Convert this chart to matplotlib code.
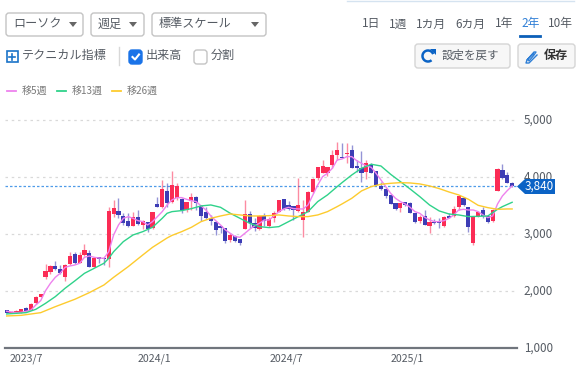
## Recreates the weekly candlestick chart with its toolbar.

import matplotlib
matplotlib.use("Agg")
import matplotlib.pyplot as plt
from matplotlib.patches import Arc, FancyBboxPatch, Polygon, Rectangle

plt.rcParams['font.family'] = ['Noto Sans CJK JP', 'DejaVu Sans']

opens = [1667, 1620, 1625, 1626, 1708, 1667, 1784, 1895, 2252, 2334, 2439, 2386, 2252, 2468, 2649, 2497, 2626, 2673, 2421, 2591, 2579,
         2556, 3357, 3410, 3316, 3234, 3141, 3304, 3164, 3211, 3100, 3532, 3468, 3760, 3568, 3626, 3614, 3421, 3573, 3655, 3492, 3381,
         3287, 3217, 3147, 3100, 2895, 2965, 2907, 3082, 3345, 3199, 3082, 3322, 3141, 3275, 3392, 3609, 3503, 3486, 3404, 3246, 3392,
         3743, 3977, 4076, 4065, 4205, 4386, 4357, 4398, 4474, 4193, 4152, 4094, 4211, 4112, 3843, 3784, 3690, 3538, 3451, 3562, 3550,
         3375, 3234, 3316, 3147, 3217, 3217, 3141, 3316, 3316, 3468, 3638, 3468, 2837, 3305, 3421, 3316, 3223, 3761, 4123, 4035, 3901]
highs = [1670, 1645, 1660, 1690, 1715, 1785, 1905, 1955, 2468, 2456, 2526, 2456, 2468, 2679, 2690, 2690, 2825, 2720, 2591, 2591, 2591,
         3480, 3597, 3632, 3374, 3363, 3392, 3421, 3246, 3217, 3392, 3643, 3948, 3889, 4112, 3890, 3626, 3568, 3726, 3667, 3509, 3480,
         3334, 3234, 3147, 3112, 3024, 2977, 2919, 3597, 3410, 3275, 3334, 3375, 3305, 3404, 3597, 3609, 3585, 3492, 3977, 3597, 3755,
         3977, 4182, 4299, 4182, 4474, 4614, 4591, 4603, 4562, 4299, 4462, 4299, 4240, 4112, 3919, 3802, 3702, 3538, 3538, 3568, 3568,
         3375, 3334, 3421, 3293, 3258, 3275, 3316, 3375, 3492, 3667, 3655, 3480, 3305, 3404, 3480, 3334, 3433, 4152, 4229, 4094, 3919]
lows = [1610, 1615, 1620, 1620, 1645, 1660, 1780, 1890, 2205, 2298, 2369, 2298, 2176, 2456, 2468, 2486, 2614, 2415, 2415, 2486, 2456,
        2415, 3304, 3275, 3158, 3117, 3141, 3158, 3082, 3029, 3082, 3468, 3450, 3480, 3550, 3597, 3363, 3392, 3421, 3421, 3234, 3258,
        3158, 2983, 3012, 2837, 2866, 2866, 2807, 3082, 3100, 3059, 3071, 3141, 3117, 3217, 3392, 3421, 3421, 3246, 3392, 2942, 3392,
        3726, 3948, 4065, 4024, 4152, 4299, 4328, 4240, 4152, 4094, 3919, 3960, 4065, 3860, 3772, 3626, 3527, 3421, 3392, 3492, 3375,
        3188, 3199, 3153, 3012, 3170, 3100, 3129, 3275, 3305, 3421, 3492, 3041, 2802, 3293, 3275, 3199, 3217, 3749, 3965, 3889, 3831]
closes = [1620, 1640, 1650, 1685, 1650, 1778, 1901, 1948, 2351, 2433, 2386, 2322, 2456, 2620, 2497, 2626, 2714, 2421, 2573, 2556, 2556,
          3410, 3450, 3328, 3199, 3141, 3304, 3176, 3234, 3088, 3392, 3480, 3784, 3550, 3860, 3843, 3421, 3562, 3650, 3550, 3322, 3287,
          3234, 3071, 3112, 2884, 2977, 2884, 2837, 3345, 3188, 3100, 3316, 3229, 3264, 3375, 3597, 3439, 3445, 3421, 3515, 3392, 3743,
          3960, 4182, 4193, 4170, 4381, 4474, 4334, 4427, 4152, 4158, 4065, 4240, 4065, 3860, 3784, 3667, 3527, 3439, 3538, 3509, 3375,
          3205, 3305, 3164, 3205, 3193, 3193, 3293, 3287, 3439, 3667, 3515, 3118, 3293, 3392, 3322, 3217, 3421, 4135, 3977, 3889, 3840]

ma5 = [1644, 1632, 1620, 1626, 1644, 1667, 1755, 1831, 2006, 2135, 2240, 2310, 2415, 2439, 2456, 2486, 2591, 2614, 2591, 2579, 2573,
       2690, 2983, 3158, 3275, 3304, 3275, 3234, 3217, 3158, 3217, 3304, 3392, 3509, 3597, 3638, 3638, 3609, 3585, 3568, 3492, 3421,
       3316, 3234, 3158, 3071, 3012, 2954, 2942, 3012, 3082, 3141, 3188, 3246, 3246, 3316, 3392, 3439, 3468, 3445, 3439, 3439, 3509,
       3685, 3860, 4006, 4065, 4152, 4299, 4316, 4357, 4357, 4287, 4240, 4193, 4170, 4065, 3948, 3831, 3714, 3626, 3568, 3527, 3468,
       3392, 3363, 3293, 3246, 3217, 3217, 3234, 3275, 3334, 3421, 3433, 3421, 3421, 3392, 3334, 3287, 3316, 3527, 3667, 3761, 3843]
ma13_idx = [0, 4, 6, 8, 10, 12, 14, 16, 18, 20, 21, 22, 24, 26, 28, 30, 32, 33, 34, 36, 38, 40, 42, 44, 46, 48, 50, 52, 54, 56, 58, 60,
            62, 64, 66, 68, 69, 71, 73, 75, 77, 79, 81, 83, 85, 87, 89, 91, 93, 95, 97, 99, 100, 101, 102, 104]
ma13 = [1597, 1620, 1679, 1784, 1901, 2047, 2176, 2310, 2398, 2486, 2573, 2690, 2866, 2983, 3041, 3117, 3275, 3363, 3392, 3410, 3445,
        3492, 3509, 3468, 3363, 3275, 3188, 3129, 3112, 3129, 3217, 3305, 3392, 3568, 3685, 3831, 3901, 4035, 4152, 4223, 4193, 4047,
        3919, 3790, 3655, 3509, 3404, 3351, 3334, 3305, 3310, 3316, 3375, 3433, 3480, 3556]
ma26_idx = [0, 3, 7, 10, 14, 17, 20, 22, 25, 28, 30, 33, 34, 36, 38, 40, 42, 44, 46, 48, 50, 52, 54, 56, 58, 60, 62, 64, 66, 68, 69, 71,
            73, 75, 77, 79, 81, 83, 85, 87, 89, 91, 93, 95, 97, 99, 101, 103, 104]
ma26 = [1562, 1573, 1620, 1725, 1854, 1971, 2105, 2240, 2427, 2632, 2766, 2930, 2975, 3041, 3117, 3217, 3275, 3316, 3351, 3334, 3316,
        3316, 3322, 3334, 3316, 3305, 3305, 3334, 3392, 3480, 3527, 3626, 3755, 3831, 3872, 3889, 3901, 3895, 3878, 3843, 3796, 3737,
        3685, 3609, 3503, 3462, 3433, 3439, 3439]

y_ticks = [1000, 2000, 3000, 4000, 5000]
date_idx = [0.5, 27, 54, 79]
date_labels = ["2023/7", "2024/1", "2024/7", "2025/1"]
last_price = 3840

UP = "#fb2c55"
DOWN = "#3d3db5"
PINK = "#ee82ee"
GREEN = "#2fd28a"
YELLOW = "#fdcb2e"
GRAY = "#6b7280"
TEXT = "#555b63"

W, H = 584, 378
fig = plt.figure(figsize=(W / 100, H / 100), dpi=100)

# chart area, x is the week index
ax = fig.add_axes([5 / W, 1 - 348 / H, 512 / W, 240 / H])
ax.set_xlim(-0.35, 105)
ax.set_ylim(1000, 5210)
ax.axis("off")

for v in y_ticks[1:]:
    ax.axhline(v, color="#d9d9d9", lw=0.9, ls=(0, (2, 3)), zorder=1)
ax.axhline(1000, color="#70757d", lw=1.6, clip_on=False, zorder=1)
ax.axhline(last_price, color="#4f9be8", lw=0.9, ls=(0, (2, 1.6)), zorder=2)

for i in range(len(opens)):
    c = UP if closes[i] >= opens[i] else DOWN
    ax.vlines(i, lows[i], highs[i], color=c, lw=1.0, alpha=0.55, zorder=3)
    ax.bar(i, abs(closes[i] - opens[i]), bottom=min(opens[i], closes[i]), width=0.86, color=c, lw=0, zorder=4)

ax.plot(range(len(ma5)), ma5, color=PINK, lw=1.0, zorder=5)
ax.plot(ma13_idx, ma13, color=GREEN, lw=1.0, zorder=5)
ax.plot(ma26_idx, ma26, color=YELLOW, lw=1.0, zorder=5)

# price labels on the right, dates underneath
trans = ax.get_yaxis_transform()
for v in y_ticks:
    ax.text(1.0135, v, "{:,}".format(v), transform=trans, color=TEXT, fontsize=8.4, va="center", ha="left")
for i, lab in zip(date_idx, date_labels):
    ax.annotate(lab, (i, 1000), xytext=(0, -7.5), textcoords="offset points", color=TEXT, fontsize=7.6, ha="left", va="center")

# toolbar and everything else around the chart, in pixels
ui = fig.add_axes([0, 0, 1, 1], zorder=10)
ui.set_xlim(0, W)
ui.set_ylim(H, 0)
ui.axis("off")
ui.patch.set_alpha(0)

def box(x0, y0, x1, y1, edge="#c4c4c4", face="white", r=3, lw=1.0):
    ui.add_patch(FancyBboxPatch((x0 + r, y0 + r), x1 - x0 - 2 * r, y1 - y0 - 2 * r, boxstyle="round,pad={},rounding_size={}".format(r, r),
                                ec=edge, fc=face, lw=lw))

def label(x, y, s, color=TEXT, size=8.7, **kw):
    ui.text(x, y, s, color=color, fontsize=size, va="center", ha="left", **kw)

for x0, x1, s, caret in [(6, 83, "ローソク", 73), (91, 144, "週足", 133), (152, 266, "標準スケール", 255)]:
    box(x0, 13, x1, 36)
    label(x0 + 7, 24, s)
    ui.add_patch(Polygon([(caret - 4, 22), (caret + 4, 22), (caret, 27)], fc="#666666", ec="none"))

ui.plot([347, 574], [1, 1], color="#d5e3f0", lw=1)

ui.add_patch(Rectangle((6.5, 51), 11, 11, fc="white", ec="#1a73c8", lw=1.2))
ui.plot([9, 15], [56.5, 56.5], color="#1a73c8", lw=1.2)
ui.plot([12, 12], [53.5, 59.5], color="#1a73c8", lw=1.2)
label(22, 55, "テクニカル指標")
ui.plot([118.5, 118.5], [47, 65], color="#d8d8d8", lw=1)
box(129, 50, 142, 64, edge="#1a73e8", face="#1a73e8")
ui.plot([132.5, 135, 139], [57, 59.5, 54.5], color="white", lw=1.5)
label(146, 55, "出来高")
box(194, 50, 207, 64)
label(211, 55, "分割")

for x0, x1, c, tx, s in [(7, 16, PINK, 22, "移5週"), (57, 66, GREEN, 72, "移13週"), (112, 121, YELLOW, 127, "移26週")]:
    ui.plot([x0, x1], [91, 91], color=c, lw=1.3)
    label(tx, 91, s, color="#7a7a7a", size=7.2)

for x, s in [(362, "1日"), (389, "1週"), (416, "1カ月"), (455, "6カ月"), (495, "1年"), (548, "10年")]:
    label(x, 24, s, size=8.5)
label(521, 24, "2年", color="#2f7fd6", size=8.5)
ui.plot([520, 540], [35.5, 35.5], color="#0b5fb8", lw=2)

box(415, 44, 510, 68, edge="#d5d5d5", face="#f7f7f7")
ui.add_patch(Arc((428, 56), 11, 11, theta1=50, theta2=340, color="#0b63c5", lw=1.8))
ui.add_patch(Polygon([(430, 49), (436, 49), (436, 55)], fc="#0b63c5", ec="none"))
label(442, 55, "設定を戻す", size=8.3)

box(518, 44, 575, 68, edge="#d5d5d5", face="#f7f7f7")
ui.plot([527, 534, 536, 534, 529, 528, 533], [60, 52, 52, 55, 61, 59, 54], color="#2f7fd6", lw=1)
ui.plot([527, 526, 529, 537], [60, 63, 63, 55], color="#2f7fd6", lw=1)
label(544, 55, "保存", color="#333333", size=8.7, fontweight="bold")

# tag with the last price
ui.add_patch(Polygon([(517, 186.5), (525, 179), (555, 179), (555, 194), (525, 194)], fc="#0b63c5", ec="none"))
label(525, 186.5, "{:,}".format(last_price), color="white", size=8.4)

fig.savefig("out.png", dpi=100)
